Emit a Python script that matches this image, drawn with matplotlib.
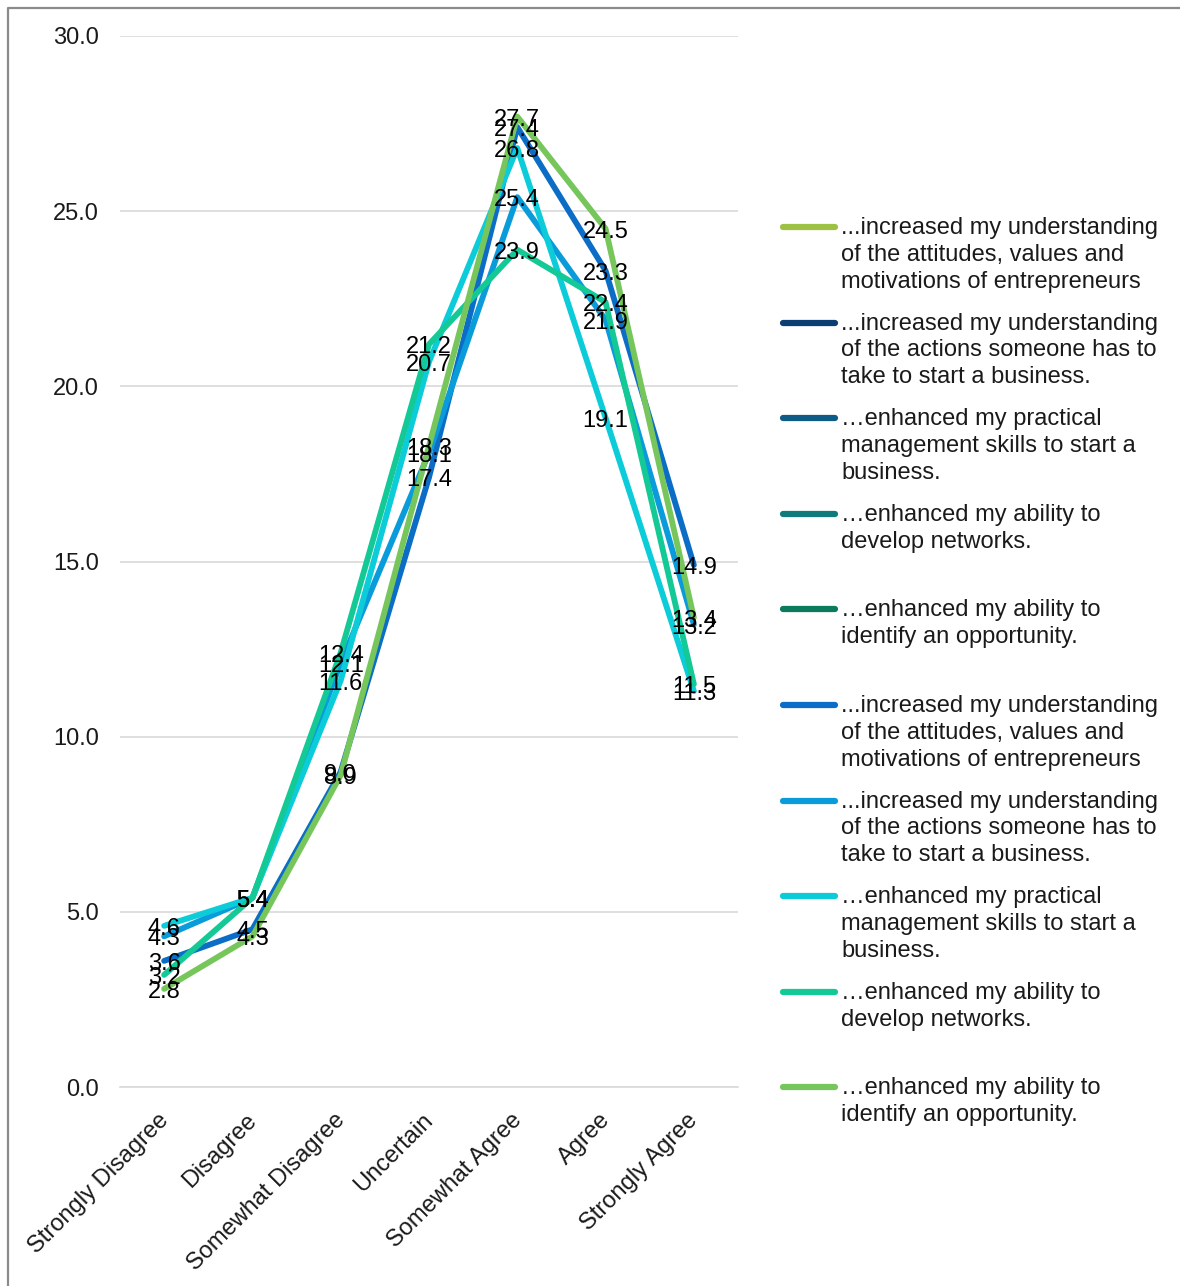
import matplotlib.pyplot as plt
from matplotlib.lines import Line2D
from matplotlib.transforms import ScaledTranslation

plt.rcParams['font.family'] = ['Liberation Sans', 'DejaVu Sans']

categories = ['Strongly Disagree', 'Disagree', 'Somewhat Disagree', 'Uncertain',
              'Somewhat Agree', 'Agree', 'Strongly Agree']

label_attitudes = '...increased my understanding\nof the attitudes, values and\nmotivations of entrepreneurs'
label_actions = '...increased my understanding\nof the actions someone has to\ntake to start a business.'
label_mgmt = '\u2026enhanced my practical\nmanagement skills to start a\nbusiness.'
label_networks = '\u2026enhanced my ability to\ndevelop networks.'
label_opportunity = '\u2026enhanced my ability to\nidentify an opportunity.'

# first group of series (legend only, no plotted values)
group1_labels = [label_attitudes, label_actions, label_mgmt, label_networks, label_opportunity]
group1_colors = ['#9DC243', '#0C3E72', '#0D5B86', '#0F7B7C', '#0C7A5D']

# second group of series, percentages per response category
attitudes = [3.6, 4.5, 9.0, 17.4, 27.4, 23.3, 14.9]
actions = [4.3, 5.4, 12.1, 18.1, 25.4, 21.9, 13.2]
mgmt = [4.6, 5.4, 11.6, 20.7, 26.8, 19.1, 11.3]
networks = [3.2, 5.4, 12.4, 21.2, 23.9, 22.4, 11.5]
opportunity = [2.8, 4.3, 8.9, 18.3, 27.7, 24.5, 13.4]

group2_values = [attitudes, actions, mgmt, networks, opportunity]
group2_labels = [label_attitudes, label_actions, label_mgmt, label_networks, label_opportunity]
group2_colors = ['#0B6DC6', '#0A9BDA', '#0BCCD8', '#13C995', '#77C65C']

W, H = 1180, 1286
fig = plt.figure(figsize=(W / 100, H / 100), dpi=100)
ax = fig.add_axes([120 / W, 1 - 1087 / H, (738 - 120) / W, (1087 - 36) / H])

x = list(range(len(categories)))
for vals, col in zip(group2_values, group2_colors):
    ax.plot(x, vals, color=col, linewidth=4.2, solid_capstyle='round',
            solid_joinstyle='round', zorder=3)
label_shift = ScaledTranslation(0, -3 / 100, fig.dpi_scale_trans)
for vals in group2_values:
    for xi, v in zip(x, vals):
        ax.text(xi, v, f'{v:.1f}', ha='center', va='center', fontsize=17,
                color='black', zorder=5, transform=ax.transData + label_shift)

ax.set_xlim(-0.5, 6.5)
ax.set_ylim(0, 30)
ax.set_yticks([0, 5, 10, 15, 20, 25, 30])
ax.set_yticklabels([f'{t:.1f}' for t in [0, 5, 10, 15, 20, 25, 30]])
ax.set_xticks(x)
ax.set_xticklabels(categories, rotation=45, ha='right', rotation_mode='anchor')
ax.tick_params(axis='both', length=0, labelsize=17, labelcolor='#1a1a1a')
ax.tick_params(axis='y', pad=15)
ax.tick_params(axis='x', pad=16)
tick_shift = ScaledTranslation(-7 / 100, 0, fig.dpi_scale_trans)
for lbl in ax.get_xticklabels():
    lbl.set_transform(lbl.get_transform() + tick_shift)
ax.grid(axis='y', color='#D9D9D9', linewidth=1.2)
ax.set_axisbelow(True)
for s in ['left', 'right', 'top']:
    ax.spines[s].set_visible(False)
ax.spines['bottom'].set_color('#D9D9D9')
ax.spines['bottom'].set_linewidth(1.2)

# legend drawn by hand, one entry every ~95.6 px
legend_labels = group1_labels + group2_labels
legend_colors = group1_colors + group2_colors
y0, step = 227, 95.6
for i, (lab, col) in enumerate(zip(legend_labels, legend_colors)):
    yc = y0 + i * step
    fig.add_artist(Line2D([783 / W, 835 / W], [1 - yc / H, 1 - yc / H], color=col,
                          linewidth=4.5, solid_capstyle='round'))
    fig.text(841 / W, 1 - (yc - 10) / H, lab, ha='left', va='top', fontsize=17,
             color='#1a1a1a', linespacing=1.28)

# outer frame
fig.add_artist(Line2D([8 / W, 8 / W, 1.0], [0.0, 1 - 8 / H, 1 - 8 / H],
                      color='#8A8A8A', linewidth=1.6))

fig.savefig('out.png', dpi=100, facecolor='white')
